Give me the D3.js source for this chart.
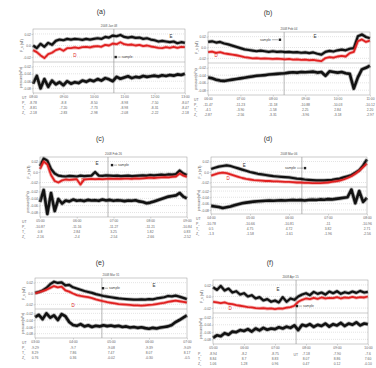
<!DOCTYPE html>
<html>
<head>
<meta charset="utf-8">
<script src="https://cdn.jsdelivr.net/npm/d3@7"></script>
<style>
  body { margin: 0; background: #fff; }
  text { font-family: "Liberation Sans", Arial, sans-serif; }
</style>
</head>
<body>
<div id="chart"></div>
<script>
// ---- data (top panel values: 0-100 of panel height) ----
const panelNames = ["(a)", "(b)", "(c)", "(d)", "(e)", "(f)"];
const dates = ["2008 Jan 08", "2008 Feb 04", "2008 Feb 26", "2008 Mar 06", "2008 Mar 31", "2008 Apr 15"];

const utTicks = [
  ["08:00", "09:00", "10:00", "11:00", "12:00", "13:00"],
  ["06:00", "07:00", "08:00", "09:00", "10:00", "11:00"],
  ["05:00", "06:00", "07:00", "08:00", "09:00"],
  ["04:00", "05:00", "06:00", "07:00", "08:00"],
  ["03:00", "04:00", "05:00", "06:00", "07:00"],
  ["05:00", "06:00", "07:00", "08:00", "09:00", "10:00"]
];

const topTickLabels = ["-0.02", "0.0", "0.02"];
const topTickVals = [15, 50, 85];
const lowTickLabels = ["-0.08", "-0.06", "-0.04", "-0.02"];
const lowTickVals = [15, 38, 62, 85];

const rowNames = ["P", "T", "Z"];
const rowP = [
  ["-8.78", "-8.8", "-8.50", "-8.98", "-7.50", "-8.07"],
  ["-11.47", "-11.23", "-11.18", "-10.88", "-10.03", "-10.12"],
  ["-10.87", "-11.16", "-11.27", "-11.21", "-10.84"],
  ["-10.78", "-10.66", "-10.81", "-11", "-10.96"],
  ["-9.29", "-9.7", "-9.08", "-9.39", "-9.09"],
  ["-8.94", "-8.2", "-8.75", "-7.18", "-7.90", "-7.6"]
];
const rowT = [
  ["-8.81", "-7.20", "-7.73", "-8.98", "-8.31", "-8.47"],
  ["-4.1", "-3.90", "-1.58", "2.25", "2.84", "2.20"],
  ["0.8", "2.84", "3.25", "1.82", "0.83"],
  ["0.5", "4.75", "4.72", "3.82", "2.71"],
  ["8.29", "7.86", "7.47", "8.07", "8.17"],
  ["8.84", "8.7", "8.83", "8.07", "8.86", "7.60"]
];
const rowZ = [
  ["-2.18", "-2.83", "-2.98", "-2.08", "-2.22", "-2.18"],
  ["-2.87", "-2.56", "-3.31", "-3.96", "-3.18", "-2.97"],
  ["-2.16", "-2.4", "-2.54", "-2.66", "-2.52"],
  ["-1.3", "-1.58", "-1.61", "-1.96", "-2.56"],
  ["0.76", "0.36", "-0.02", "-0.30", "-0.5"],
  ["1.06", "1.28", "0.96", "0.47", "0.12", "-0.10"]
];

const topBlack = [
  [50,42,55,46,58,52,64,68,66,70,68,70,69,67,70,68,70,72,70,76,74,80,78,82,76,74,76,73,74,70,72,68,66,62,64,62,60,62,57,60,58],
  [68,70,66,68,63,60,56,52,48,44,42,40,38,40,38,36,38,36,37,35,36,34,35,33,34,32,34,30,27,36,39,37,41,43,41,46,48,86,92,84,80],
  [70,95,88,60,45,38,36,35,37,36,35,38,36,37,38,50,38,37,39,38,37,38,36,37,38,36,37,38,39,38,40,39,40,41,40,42,41,43,55,45,40],
  [60,64,68,70,72,70,66,62,58,54,50,47,44,42,40,38,36,35,34,33,32,30,28,27,25,24,23,22,22,22,23,24,26,28,32,36,40,48,56,72,92],
  [52,55,60,68,80,88,84,86,76,78,70,66,62,58,55,52,48,45,42,40,38,36,34,33,32,31,30,30,31,30,32,31,34,36,38,42,41,43,40,36,32],
  [78,70,82,68,74,62,66,56,60,50,54,44,48,38,42,34,38,32,48,34,44,40,50,56,60,54,64,58,62,56,65,60,66,58,63,60,65,61,67,62,64]
];
const topRed = [
  [36,30,20,12,24,28,36,40,34,42,42,44,42,45,46,44,47,48,46,52,50,56,54,60,54,52,53,50,52,48,50,47,45,43,42,45,43,46,43,46,45],
  [35,37,33,35,31,29,27,25,22,19,17,15,16,14,15,14,13,14,13,12,13,11,12,10,11,9,10,8,6,16,19,17,21,23,21,32,36,70,76,68,72],
  [60,85,75,40,20,15,22,25,24,25,26,8,25,26,27,26,27,26,27,28,27,28,27,28,28,27,29,28,29,30,31,30,31,32,33,32,34,35,45,38,34],
  [38,42,46,48,46,42,38,34,30,27,25,23,22,21,20,20,19,19,18,17,17,16,15,15,14,14,13,13,13,14,15,17,19,21,25,30,36,44,54,66,78],
  [50,54,58,62,68,74,70,72,60,56,50,45,42,40,38,35,31,28,25,22,20,18,16,15,14,13,12,12,11,12,13,14,16,18,20,23,25,27,25,23,21],
  [34,32,30,32,28,27,24,22,20,18,17,15,14,15,13,14,12,14,13,16,18,22,34,40,44,42,46,43,47,44,46,45,48,44,47,46,49,46,48,47,50]
];
const lowBlack = [
  [30,55,15,45,20,40,28,35,25,38,30,35,32,40,36,42,38,45,40,48,44,38,52,46,50,54,48,52,50,55,52,54,56,53,57,55,58,56,60,58,62],
  [55,52,48,45,44,46,48,50,52,54,56,58,60,61,62,64,65,66,67,68,70,71,70,72,71,72,73,70,72,60,74,72,70,72,68,66,20,55,80,85,92],
  [50,90,10,80,20,60,45,55,52,58,54,56,53,57,55,56,54,58,55,57,54,56,55,53,55,54,56,52,50,46,48,52,56,60,64,68,70,72,80,68,62],
  [30,28,26,22,25,28,32,36,40,42,44,46,47,48,49,50,49,50,51,50,51,52,51,52,50,52,53,52,54,53,55,54,56,58,60,62,90,40,85,45,60],
  [72,80,65,85,70,78,62,82,75,55,45,42,48,40,44,38,42,40,44,41,43,40,42,38,40,36,38,35,37,34,32,35,33,36,38,40,45,55,62,70,78],
  [20,28,25,35,30,40,38,45,42,48,40,50,44,52,46,50,48,54,50,56,52,60,45,62,58,64,55,62,58,66,56,64,60,68,58,66,62,70,60,66,64]
];

// sample time (in tick units) and annotation spots [t, value]
const sampleTime = [2.66, 2.35, 1.85, 2.33, 1.76, 2.68];
const labelE = [[4.54, 74], [3.30, 80], [1.55, 73], [0.85, 68], [3.13, 70], [2.10, 67]];
const labelD = [[1.38, 15], [0.25, 19], [1.17, 17], [0.44, 23], [1.0, 7], [0.55, 9]];
const legendAt = [[2.72, 15], [2.22, 75], [1.96, 73], [2.41, 63], [1.79, 67], [2.71, 21]];

// ---- layout ----
const layout = [
  { L: 33,  R: 185, T: 29,  M: 62,  B: 93,  tx: 101, ty: 14,  rx: 22 },
  { L: 208, R: 370, T: 32,  M: 63,  B: 95,  tx: 268, ty: 15,  rx: 194 },
  { L: 40,  R: 187, T: 157, M: 187, B: 217, tx: 100, ty: 141, rx: 22 },
  { L: 211, R: 367, T: 157, M: 187, B: 214, tx: 268, ty: 141, rx: 196 },
  { L: 35,  R: 187, T: 278, M: 309, B: 338, tx: 100, ty: 265, rx: 22 },
  { L: 213, R: 368, T: 280, M: 313, B: 344, tx: 270, ty: 265, rx: 198 }
];

const svg = d3.select("#chart").append("svg")
  .attr("width", 376)
  .attr("height", 368);

const fs = 3.4;

// fuzzy underlay + core stroke, so the noisy traces read as a band
function trace(g, data, line, color, w) {
  g.append("path").datum(data).attr("d", line)
    .attr("fill", "none").attr("stroke", color).attr("stroke-opacity", 0.35)
    .attr("stroke-width", w + 1.6).attr("stroke-linejoin", "round");
  g.append("path").datum(data).attr("d", line)
    .attr("fill", "none").attr("stroke", color)
    .attr("stroke-width", w).attr("stroke-linejoin", "round");
}

layout.forEach((p, k) => {
  const g = svg.append("g");
  const nT = utTicks[k].length;
  const x = d3.scaleLinear().domain([0, nT - 1]).range([p.L, p.R]);
  const xi = d3.scaleLinear().domain([0, topBlack[k].length - 1]).range([p.L, p.R]);
  const yTop = d3.scaleLinear().domain([0, 100]).range([p.M, p.T]);
  const yLow = d3.scaleLinear().domain([0, 100]).range([p.B, p.M]);

  // titles
  g.append("text").attr("x", p.tx).attr("y", p.ty)
    .attr("text-anchor", "middle").attr("font-size", 7).attr("fill", "#333")
    .text(panelNames[k]);
  g.append("text").attr("x", (p.L + p.R) / 2).attr("y", p.T - 2)
    .attr("text-anchor", "middle").attr("font-size", 3).attr("fill", "#555")
    .text(dates[k]);

  // dotted grid
  topTickVals.forEach(v => {
    g.append("line").attr("x1", p.L).attr("x2", p.R).attr("y1", yTop(v)).attr("y2", yTop(v))
      .attr("stroke", "#bbb").attr("stroke-width", 0.4).attr("stroke-dasharray", "1,1");
  });
  lowTickVals.forEach(v => {
    g.append("line").attr("x1", p.L).attr("x2", p.R).attr("y1", yLow(v)).attr("y2", yLow(v))
      .attr("stroke", "#bbb").attr("stroke-width", 0.4).attr("stroke-dasharray", "1,1");
  });

  // sample line
  g.append("line").attr("x1", x(sampleTime[k])).attr("x2", x(sampleTime[k]))
    .attr("y1", p.T).attr("y2", p.B).attr("stroke", "#888").attr("stroke-width", 0.6);

  // curves
  const lineTop = d3.line().x((d, i) => xi(i)).y(d => yTop(d));
  const lineLow = d3.line().x((d, i) => xi(i)).y(d => yLow(d));
  trace(g, topBlack[k], lineTop, "#111", 2.2);
  trace(g, topRed[k], lineTop, "#e02020", 1.8);
  trace(g, lowBlack[k], lineLow, "#111", 2.6);

  // frames
  g.append("rect").attr("x", p.L).attr("y", p.T).attr("width", p.R - p.L).attr("height", p.B - p.T)
    .attr("fill", "none").attr("stroke", "#999").attr("stroke-width", 0.5);
  g.append("line").attr("x1", p.L).attr("x2", p.R).attr("y1", p.M).attr("y2", p.M)
    .attr("stroke", "#999").attr("stroke-width", 0.5);

  // y axes
  const ayTop = g.append("g").attr("transform", `translate(${p.L},0)`)
    .call(d3.axisLeft(yTop).tickValues(topTickVals).tickSize(1.5)
      .tickFormat((d, i) => topTickLabels[i]));
  const ayLow = g.append("g").attr("transform", `translate(${p.L},0)`)
    .call(d3.axisLeft(yLow).tickValues(lowTickVals).tickSize(1.5)
      .tickFormat((d, i) => lowTickLabels[i]));
  const ax = g.append("g").attr("transform", `translate(0,${p.B})`)
    .call(d3.axisBottom(x).tickValues(d3.range(nT)).tickSize(1.5)
      .tickFormat((d, i) => utTicks[k][i]));
  [ayTop, ayLow, ax].forEach(a => {
    a.select(".domain").remove();
    a.selectAll("line").attr("stroke", "#999").attr("stroke-width", 0.4);
    a.selectAll("text").attr("font-size", fs).attr("fill", "#666");
  });
  ayTop.selectAll("text").attr("x", -2);
  ayLow.selectAll("text").attr("x", -2);
  ax.selectAll("text").attr("y", 2.5);

  // y labels
  g.append("text").attr("transform", `translate(${p.L - 10},${(p.T + p.M) / 2}) rotate(-90)`)
    .attr("text-anchor", "middle").attr("font-size", fs).attr("fill", "#555").text("F_x (nT)");
  g.append("text").attr("transform", `translate(${p.L - 11},${(p.M + p.B) / 2}) rotate(-90)`)
    .attr("text-anchor", "middle").attr("font-size", fs).attr("fill", "#555").text("pressure(nPa)");

  // annotations
  g.append("text").attr("x", x(labelE[k][0])).attr("y", yTop(labelE[k][1]))
    .attr("font-size", 4.5).attr("fill", "#333").attr("text-anchor", "middle").text("E");
  g.append("text").attr("x", x(labelD[k][0])).attr("y", yTop(labelD[k][1]))
    .attr("font-size", 4.5).attr("fill", "#e02020").attr("text-anchor", "middle").text("D");
  const lx = x(legendAt[k][0]), ly = yTop(legendAt[k][1]);
  g.append("rect").attr("x", lx - 1.2).attr("y", ly - 1.2).attr("width", 2.4).attr("height", 2.4).attr("fill", "#222");
  if (k === 1 || k === 3) {
    g.append("line").attr("x1", lx - 8).attr("x2", lx - 2).attr("y1", ly).attr("y2", ly)
      .attr("stroke", "#333").attr("stroke-width", 0.4);
    g.append("text").attr("x", lx - 9).attr("y", ly + 1.2).attr("text-anchor", "end")
      .attr("font-size", fs).attr("fill", "#444").text("sample");
  } else {
    g.append("line").attr("x1", lx + 2).attr("x2", lx + 5).attr("y1", ly).attr("y2", ly)
      .attr("stroke", "#333").attr("stroke-width", 0.4);
    g.append("text").attr("x", lx + 6).attr("y", ly + 1.2)
      .attr("font-size", fs).attr("fill", "#444").text("sample");
  }

  // table rows below
  const utX = k === 5 ? x(2.6) : p.rx;
  const utY = k === 5 ? p.B + 12 : p.B + 5.5;
  g.append("text").attr("x", utX).attr("y", utY).attr("font-size", fs).attr("fill", "#666").text("UT");
  [rowP[k], rowT[k], rowZ[k]].forEach((row, r) => {
    const yy = p.B + 11 + r * 5;
    const lab = g.append("text").attr("x", p.rx).attr("y", yy).attr("font-size", fs).attr("fill", "#666");
    lab.append("tspan").text(rowNames[r]);
    lab.append("tspan").attr("font-size", 2.4).attr("dy", 0.8).text("x");
    g.selectAll(null).data(row).enter().append("text")
      .attr("x", (d, i) => x(i)).attr("y", yy)
      .attr("text-anchor", "middle").attr("font-size", fs).attr("fill", "#666")
      .text(d => d);
  });
});
</script>
</body>
</html>
